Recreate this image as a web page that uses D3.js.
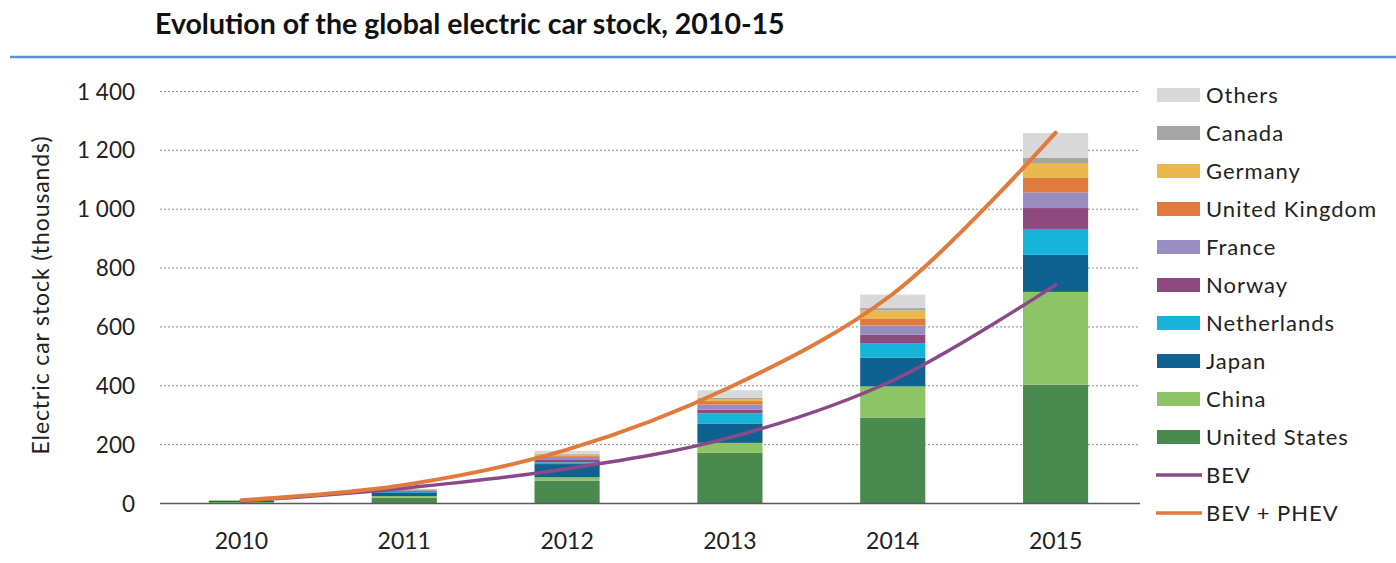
<!DOCTYPE html>
<html>
<head>
<meta charset="utf-8">
<script src="https://cdn.jsdelivr.net/npm/d3@7"></script>
<style>
  body { margin: 0; background: #fff; }
  svg { display: block; font-family: Lato, "Open Sans", sans-serif; }
</style>
</head>
<body>
<svg width="1396" height="563"></svg>
<script>
const W = 1396, H = 563;

// Data (thousands of cars)
const years = ['2010', '2011', '2012', '2013', '2014', '2015'];
const unitedStates  = [4, 20, 77, 172, 291, 404];
const china         = [1, 5, 12, 34, 107, 315];
const japan         = [4, 13, 45, 66, 97, 126];
const netherlands   = [0.3, 2, 6, 34, 50, 88];
const norway        = [0.4, 4, 10, 13, 29, 71];
const france        = [0.3, 2, 8, 17, 31, 53];
const unitedKingdom = [0.3, 1, 3, 12, 22, 49];
const germany       = [0.3, 1, 5, 7, 29, 51];
const canada        = [0.2, 1, 3, 4, 8, 17];
const others        = [0.5, 1, 10, 26, 46, 85];
const bev           = [8, 52, 118, 224, 418, 743];
const bevPhev       = [11, 63, 183, 395, 712, 1260];
const yTicks        = [0, 200, 400, 600, 800, 1000, 1200, 1400];

// stack order, bottom to top
const series = [
    {name: 'United States', values: unitedStates, color: '#4a8a4f'},
    {name: 'China', values: china, color: '#8dc466'},
    {name: 'Japan', values: japan, color: '#0f628f'},
    {name: 'Netherlands', values: netherlands, color: '#16b4d8'},
    {name: 'Norway', values: norway, color: '#8c4a7e'},
    {name: 'France', values: france, color: '#978dc0'},
    {name: 'United Kingdom', values: unitedKingdom, color: '#e07a3d'},
    {name: 'Germany', values: germany, color: '#e9b94e'},
    {name: 'Canada', values: canada, color: '#a5a5a5'},
    {name: 'Others', values: others, color: '#d9d9d9'}
];
const lineSeries = [
    {name: 'BEV', values: bev, color: '#8a4a8a', width: 3.5},
    {name: 'BEV + PHEV', values: bevPhev, color: '#e07a3d', width: 4}
];

const svg = d3.select('svg');

// Title and the blue rule below it
svg.append('text')
    .attr('x', 155).attr('y', 34)
    .attr('font-size', 28.5).attr('font-weight', 'bold')
    .attr('fill', '#111')
    .text('Evolution of the global electric car stock, 2010-15');
svg.append('line')
    .attr('x1', 10).attr('x2', W).attr('y1', 57).attr('y2', 57)
    .attr('stroke', '#5b8fd3').attr('stroke-width', 2.5);

const x = d3.scaleBand().domain(years).range([160, 1137])
    .paddingInner(0.6).paddingOuter(0.3);
const y = d3.scaleLinear().domain([0, 1400]).range([503.5, 91.5]);

// Gridlines
svg.append('g').selectAll('line')
    .data(yTicks.filter(d => d > 0))
    .join('line')
    .attr('x1', 160).attr('x2', 1140)
    .attr('y1', d => y(d)).attr('y2', d => y(d))
    .attr('stroke', '#8c8c8c').attr('stroke-width', 1)
    .attr('stroke-dasharray', '2,2');

// Y tick labels
svg.append('g').selectAll('text')
    .data(yTicks)
    .join('text')
    .attr('x', 135).attr('y', d => y(d))
    .attr('dy', '0.36em')
    .attr('text-anchor', 'end')
    .attr('font-size', 22.5).attr('fill', '#222')
    .text(d => d3.format(',')(d).replace(',', ' '));

// Y axis title
svg.append('text')
    .attr('transform', 'translate(49,295) rotate(-90)')
    .attr('text-anchor', 'middle')
    .attr('font-size', 23).attr('letter-spacing', 0.9).attr('fill', '#222')
    .text('Electric car stock (thousands)');

// Stacked bars
const table = years.map((yr, i) => {
    const row = {year: yr};
    series.forEach(s => row[s.name] = s.values[i]);
    return row;
});
const stacked = d3.stack().keys(series.map(s => s.name))(table);

svg.append('g').selectAll('g')
    .data(stacked)
    .join('g')
    .attr('fill', (d, i) => series[i].color)
    .selectAll('rect')
    .data(d => d)
    .join('rect')
    .attr('x', d => x(d.data.year))
    .attr('width', x.bandwidth())
    .attr('y', d => y(d[1]))
    .attr('height', d => y(d[0]) - y(d[1]));

// Baseline
svg.append('line')
    .attr('x1', 160).attr('x2', 1140)
    .attr('y1', y(0)).attr('y2', y(0))
    .attr('stroke', '#595959').attr('stroke-width', 1.5);

// X labels
svg.append('g').selectAll('text')
    .data(years)
    .join('text')
    .attr('x', d => x(d) + x.bandwidth() / 2)
    .attr('y', 549)
    .attr('text-anchor', 'middle')
    .attr('font-size', 23).attr('fill', '#222')
    .text(d => d);

// Lines
const line = d3.line()
    .x((d, i) => x(years[i]) + x.bandwidth() / 2)
    .y(d => y(d))
    .curve(d3.curveCatmullRom.alpha(0.5));

lineSeries.forEach(s => {
    svg.append('path')
        .attr('d', line(s.values))
        .attr('fill', 'none')
        .attr('stroke', s.color)
        .attr('stroke-width', s.width)
        .attr('stroke-linecap', 'round');
});

// Legend
const legendItems = series.slice().reverse().map(s => ({...s, type: 'rect'}))
    .concat(lineSeries.map(s => ({...s, type: 'line'})));

const legend = svg.append('g').selectAll('g')
    .data(legendItems)
    .join('g')
    .attr('transform', (d, i) => `translate(1157,${95 + i * 38})`);

legend.filter(d => d.type === 'rect').append('rect')
    .attr('x', 0).attr('y', -7).attr('width', 43).attr('height', 14)
    .attr('fill', d => d.color);

legend.filter(d => d.type === 'line').append('line')
    .attr('x1', -1).attr('x2', 45).attr('y1', 0).attr('y2', 0)
    .attr('stroke', d => d.color).attr('stroke-width', 3.5);

legend.append('text')
    .attr('x', 49).attr('y', 0).attr('dy', '0.36em')
    .attr('font-size', 22).attr('letter-spacing', 1).attr('fill', '#222')
    .text(d => d.name);
</script>
</body>
</html>
